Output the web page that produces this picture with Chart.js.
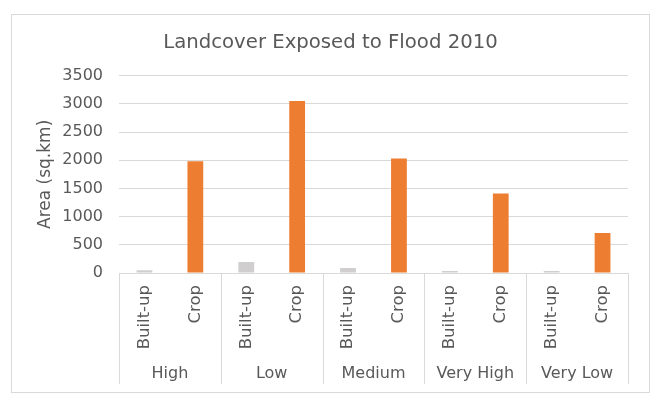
<!DOCTYPE html>
<html>
<head>
<meta charset="utf-8">
<script src="https://cdn.jsdelivr.net/npm/chart.js@4.4.1/dist/chart.umd.min.js"></script>
<style>
  html, body { margin: 0; padding: 0; background: #fff; }
  #frame {
    position: absolute; left: 11px; top: 14px;
    width: 639px; height: 379px;
    border: 1px solid #d9d9d9; box-sizing: border-box;
  }
  #wrap { position: absolute; left: 0; top: 0; width: 637px; height: 377px; }
</style>
</head>
<body>
<div id="frame"><div id="wrap"><canvas id="chart"></canvas></div></div>
<script>
// data
const groups = ['High', 'Low', 'Medium', 'Very High', 'Very Low'];
const types = ['Built-up', 'Crop'];
const builtUp = [50, 195, 90, 35, 35];
const crop = [1980, 3050, 2030, 1410, 710];
const yTicks = [0, 500, 1000, 1500, 2000, 2500, 3000, 3500];

const typeColors = { 'Built-up': '#d0cece', 'Crop': '#ed7d31' };
const FONT = 'DejaVu Sans';
const TXT = '#595959';
const GRID = '#d9d9d9';

// interleave into one category axis: High/Built-up, High/Crop, Low/Built-up ...
const labels = [];
const values = [];
const colors = [];
groups.forEach((g, i) => {
  labels.push(types[0]); values.push(builtUp[i]); colors.push(typeColors[types[0]]);
  labels.push(types[1]); values.push(crop[i]); colors.push(typeColors[types[1]]);
});

// group separators running down through both label rows
const groupLines = {
  id: 'groupLines',
  afterDraw(chart) {
    const g = chart.scales.groups;
    const top = chart.chartArea.bottom;
    const ctx = chart.ctx;
    ctx.save();
    ctx.strokeStyle = GRID;
    ctx.lineWidth = 1;
    const n = groups.length;
    for (let i = 0; i <= n; i++) {
      const x = Math.round(g.left + i * g.width / n) + 0.5;
      ctx.beginPath();
      ctx.moveTo(x, top);
      ctx.lineTo(x, g.bottom);
      ctx.stroke();
    }
    ctx.restore();
  }
};

new Chart(document.getElementById('chart'), {
  type: 'bar',
  data: {
    labels,
    datasets: [{
      label: 'Area',
      data: values,
      backgroundColor: colors,
      borderWidth: 0,
      barPercentage: 0.62,
      categoryPercentage: 0.5,
    }],
  },
  options: {
    responsive: true,
    maintainAspectRatio: false,
    animation: false,
    layout: { padding: { left: 0, right: 0, top: 0, bottom: 8 } },
    plugins: {
      legend: { display: false },
      tooltip: { enabled: false },
      title: {
        display: true,
        text: 'Landcover Exposed to Flood 2010',
        color: TXT,
        font: { family: FONT, size: 19.7, weight: 'normal' },
        padding: { top: 16, bottom: 21 },
      },
    },
    scales: {
      y: {
        min: 0,
        max: 3500,
        afterBuildTicks: s => { s.ticks = yTicks.map(v => ({ value: v })); },
        afterFit: s => { s.width = 107; },
        border: { display: false },
        grid: { color: GRID, drawTicks: false },
        ticks: {
          color: TXT,
          font: { family: FONT, size: 16 },
          padding: 16,
          callback: v => String(v),
        },
        title: {
          display: true,
          text: 'Area (sq.km)',
          color: TXT,
          font: { family: FONT, size: 17 },
          padding: { top: 23, bottom: 0 },
        },
      },
      // empty right gutter so the title centres on the whole frame
      gutter: {
        type: 'linear',
        position: 'right',
        afterFit: s => { s.width = 21; },
        border: { display: false },
        grid: { display: false },
        ticks: { display: false },
      },
      x: {
        position: 'bottom',
        weight: 0,
        afterFit: s => { s.height = 83; },
        border: { display: true, color: GRID },
        grid: { display: false },
        ticks: {
          color: TXT,
          font: { family: FONT, size: 16.5 },
          autoSkip: false,
          minRotation: 90,
          maxRotation: 90,
          padding: 4,
        },
      },
      groups: {
        type: 'category',
        labels: groups,
        position: 'bottom',
        weight: 1,
        afterFit: s => { s.height = 28; },
        border: { display: false },
        grid: { display: false, drawTicks: false },
        ticks: { color: TXT, font: { family: FONT, size: 16 }, padding: 8 },
      },
    },
  },
  plugins: [groupLines],
});
</script>
</body>
</html>
